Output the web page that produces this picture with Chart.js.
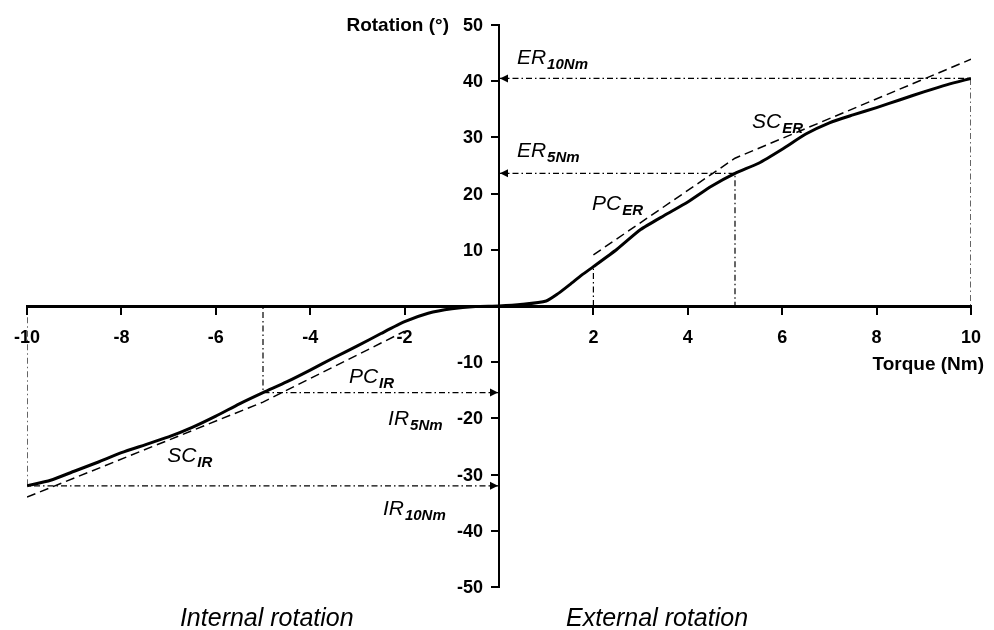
<!DOCTYPE html>
<html>
<head>
<meta charset="utf-8">
<script src="https://cdn.jsdelivr.net/npm/chart.js@4.4.0/dist/chart.umd.min.js"></script>
<style>
  html, body { margin: 0; padding: 0; background: #fff; }
  #wrap { width: 994px; height: 630px; }
</style>
</head>
<body>
<div id="wrap"><canvas id="chart"></canvas></div>
<script>
// measured torque-rotation curve
const curveTorque = [-10, -9.5, -9, -8.5, -8, -7.5, -7, -6.5, -6, -5.5, -5, -4.5, -4, -3.5, -3, -2.5, -2, -1.5, -1, -0.5, 0,
  0.5, 1, 1.25, 1.5, 1.75, 2, 2.5, 3, 3.5, 4, 4.5, 5, 5.5, 6, 6.5, 7, 7.5, 8, 8.5, 9, 9.5, 10];
const curveRotation = [-32.0, -31.0, -29.4, -27.8, -26.1, -24.7, -23.3, -21.6, -19.6, -17.4, -15.4, -13.5, -11.4, -9.2, -7.1, -4.9, -2.8, -1.3, -0.5, -0.1, 0,
  0.3, 0.9, 2.2, 3.8, 5.5, 7.0, 10.1, 13.6, 16.1, 18.5, 21.3, 23.6, 25.4, 27.9, 30.6, 32.6, 34.0, 35.3, 36.7, 38.1, 39.4, 40.5];

// linear fits (primary / secondary compliance)
const fitIrTorque = [-10, -5, -2];
const fitIrRotation = [-34.0, -17.1, -4.5];
const fitErTorque = [2, 5, 10];
const fitErRotation = [9.1, 26.3, 43.9];

// rotation read at 5 and 10 Nm
const refTorque = [10, 5, -5, -10];
const refRotation = [40.5, 23.6, -15.4, -32.0];
// start of primary compliance (ER)
const pcStartTorque = 2;
const pcStartRotation = 6.9;

const torqueMin = -10, torqueMax = 10, torqueStep = 2;
const rotationMin = -50, rotationMax = 50, rotationStep = 10;

// annotation labels, anchored in data units
const notes = [
  { x: 0.38, y: 43.0, main: 'ER', sub: '10Nm' },
  { x: 0.38, y: 26.5, main: 'ER', sub: '5Nm' },
  { x: 5.36, y: 31.7, main: 'SC', sub: 'ER' },
  { x: 1.97, y: 17.0, main: 'PC', sub: 'ER' },
  { x: -3.18, y: -13.7, main: 'PC', sub: 'IR' },
  { x: -2.35, y: -21.2, main: 'IR', sub: '5Nm' },
  { x: -7.03, y: -27.8, main: 'SC', sub: 'IR' },
  { x: -2.46, y: -37.2, main: 'IR', sub: '10Nm' }
];

const pts = (xs, ys) => xs.map((x, i) => ({ x: x, y: ys[i] }));
const dashDot = [6, 3, 1.5, 3];

const datasets = [
  { data: pts(curveTorque, curveRotation), borderColor: '#000', borderWidth: 3, tension: 0.2 },
  { data: pts(fitIrTorque, fitIrRotation), borderColor: '#000', borderWidth: 1.5, borderDash: [9, 5] },
  { data: pts(fitErTorque, fitErRotation), borderColor: '#000', borderWidth: 1.5, borderDash: [9, 5] }
];
refTorque.forEach((t, i) => {
  datasets.push({
    data: [{ x: 0, y: refRotation[i] }, { x: t, y: refRotation[i] }, { x: t, y: 0 }],
    borderColor: '#000', borderWidth: 1.2, borderDash: dashDot
  });
});
datasets.push({
  data: [{ x: pcStartTorque, y: 0 }, { x: pcStartTorque, y: pcStartRotation }],
  borderColor: '#000', borderWidth: 1.2, borderDash: dashDot
});
datasets.forEach(d => { d.pointRadius = 0; d.fill = false; });

const FONT = 'Liberation Sans, Arial, sans-serif';

const overlay = {
  id: 'overlay',
  afterDatasetsDraw(chart) {
    const { ctx, scales: { x, y } } = chart;
    const x0 = x.getPixelForValue(0);
    const y0 = y.getPixelForValue(0);
    ctx.save();
    ctx.fillStyle = '#000';

    // tick labels beside the crossing axes (0 left out)
    ctx.font = 'bold 18px ' + FONT;
    ctx.textBaseline = 'middle';
    ctx.textAlign = 'center';
    x.ticks.forEach(t => {
      if (t.value !== 0) ctx.fillText(String(t.value), x.getPixelForValue(t.value), y0 + 32);
    });
    ctx.textAlign = 'right';
    y.ticks.forEach(t => {
      if (t.value !== 0) ctx.fillText(String(t.value), x0 - 16, y.getPixelForValue(t.value) + 1);
    });

    // arrow heads on the rotation axis
    refRotation.forEach((r, i) => {
      const py = y.getPixelForValue(r);
      const dir = refTorque[i] > 0 ? 1 : -1;
      ctx.beginPath();
      ctx.moveTo(x0 + 1 * dir, py);
      ctx.lineTo(x0 + 9 * dir, py - 4);
      ctx.lineTo(x0 + 9 * dir, py + 4);
      ctx.closePath();
      ctx.fill();
    });

    // italic labels with subscripts
    ctx.textBaseline = 'alphabetic';
    ctx.textAlign = 'left';
    notes.forEach(n => {
      const px = x.getPixelForValue(n.x);
      const py = y.getPixelForValue(n.y);
      ctx.font = 'italic 21px ' + FONT;
      ctx.fillText(n.main, px, py);
      const w = ctx.measureText(n.main).width;
      ctx.font = 'italic bold 15px ' + FONT;
      ctx.fillText(n.sub, px + w + 1, py + 5);
    });

    // axis titles
    ctx.font = 'bold 19px ' + FONT;
    ctx.textAlign = 'right';
    ctx.fillText('Rotation (°)', x0 - 50, 31);
    ctx.fillText('Torque (Nm)', x.getPixelForValue(torqueMax) + 13, y0 + 64);

    // direction captions
    ctx.font = 'italic 25px ' + FONT;
    ctx.textAlign = 'left';
    ctx.fillText('Internal rotation', x.getPixelForValue(-6.76), chart.height - 4);
    ctx.fillText('External rotation', x.getPixelForValue(1.42), chart.height - 4);
    ctx.restore();
  }
};

new Chart(document.getElementById('chart'), {
  type: 'line',
  data: { datasets: datasets },
  options: {
    responsive: true,
    maintainAspectRatio: false,
    animation: false,
    layout: { padding: { left: 27, right: 23, top: 25, bottom: 43 } },
    plugins: { legend: { display: false }, tooltip: { enabled: false } },
    scales: {
      x: {
        type: 'linear',
        position: { y: 0 },
        min: torqueMin, max: torqueMax,
        border: { display: true, color: '#000', width: 3 },
        grid: { drawOnChartArea: false, drawTicks: true, tickLength: 7, color: '#000', lineWidth: 2 },
        ticks: { stepSize: torqueStep, display: false }
      },
      y: {
        type: 'linear',
        position: { x: 0 },
        min: rotationMin, max: rotationMax,
        border: { display: true, color: '#000', width: 2 },
        grid: { drawOnChartArea: false, drawTicks: true, tickLength: 7, color: '#000', lineWidth: 2 },
        ticks: { stepSize: rotationStep, display: false }
      }
    }
  },
  plugins: [overlay]
});
</script>
</body>
</html>
